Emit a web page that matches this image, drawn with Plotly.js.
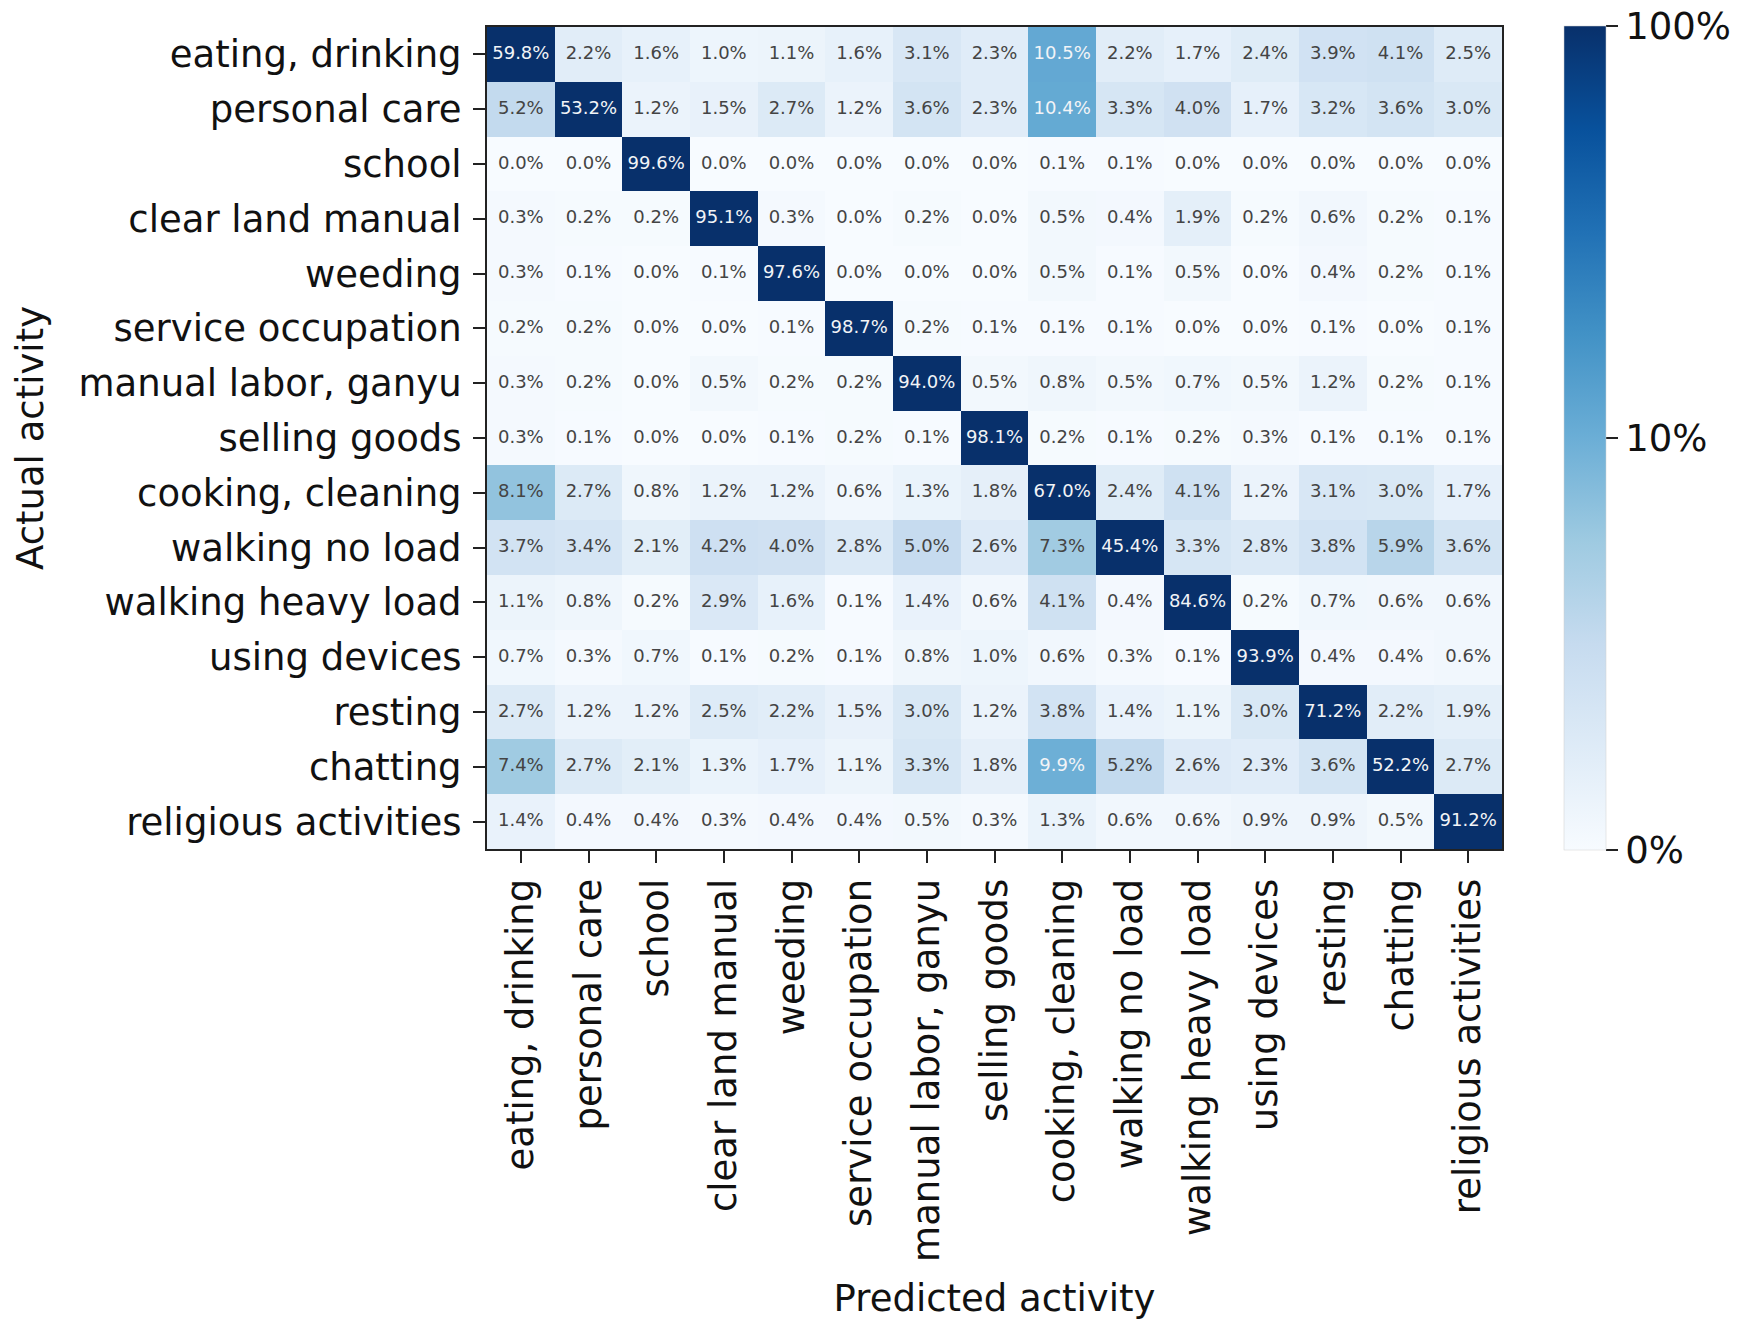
<!DOCTYPE html>
<html>
<head>
<meta charset="utf-8">
<script src="https://cdn.plot.ly/plotly-3.0.1.min.js"></script>
<style>
  html, body { margin: 0; padding: 0; background: #ffffff; }
  #chart { width: 1744px; height: 1320px; }
</style>
</head>
<body>
<div id="chart"></div>
<script>
// Activity categories (rows = actual, columns = predicted)
const activities = [
  "eating, drinking", "personal care", "school", "clear land manual", "weeding",
  "service occupation", "manual labor, ganyu", "selling goods", "cooking, cleaning",
  "walking no load", "walking heavy load", "using devices", "resting", "chatting",
  "religious activities"
];

// Percentages, one array per actual activity (row), in predicted-activity order
const eatingDrinking      = [59.8, 2.2, 1.6, 1.0, 1.1, 1.6, 3.1, 2.3, 10.5, 2.2, 1.7, 2.4, 3.9, 4.1, 2.5];
const personalCare        = [5.2, 53.2, 1.2, 1.5, 2.7, 1.2, 3.6, 2.3, 10.4, 3.3, 4.0, 1.7, 3.2, 3.6, 3.0];
const school              = [0.0, 0.0, 99.6, 0.0, 0.0, 0.0, 0.0, 0.0, 0.1, 0.1, 0.0, 0.0, 0.0, 0.0, 0.0];
const clearLandManual     = [0.3, 0.2, 0.2, 95.1, 0.3, 0.0, 0.2, 0.0, 0.5, 0.4, 1.9, 0.2, 0.6, 0.2, 0.1];
const weeding             = [0.3, 0.1, 0.0, 0.1, 97.6, 0.0, 0.0, 0.0, 0.5, 0.1, 0.5, 0.0, 0.4, 0.2, 0.1];
const serviceOccupation   = [0.2, 0.2, 0.0, 0.0, 0.1, 98.7, 0.2, 0.1, 0.1, 0.1, 0.0, 0.0, 0.1, 0.0, 0.1];
const manualLaborGanyu    = [0.3, 0.2, 0.0, 0.5, 0.2, 0.2, 94.0, 0.5, 0.8, 0.5, 0.7, 0.5, 1.2, 0.2, 0.1];
const sellingGoods        = [0.3, 0.1, 0.0, 0.0, 0.1, 0.2, 0.1, 98.1, 0.2, 0.1, 0.2, 0.3, 0.1, 0.1, 0.1];
const cookingCleaning     = [8.1, 2.7, 0.8, 1.2, 1.2, 0.6, 1.3, 1.8, 67.0, 2.4, 4.1, 1.2, 3.1, 3.0, 1.7];
const walkingNoLoad       = [3.7, 3.4, 2.1, 4.2, 4.0, 2.8, 5.0, 2.6, 7.3, 45.4, 3.3, 2.8, 3.8, 5.9, 3.6];
const walkingHeavyLoad    = [1.1, 0.8, 0.2, 2.9, 1.6, 0.1, 1.4, 0.6, 4.1, 0.4, 84.6, 0.2, 0.7, 0.6, 0.6];
const usingDevices        = [0.7, 0.3, 0.7, 0.1, 0.2, 0.1, 0.8, 1.0, 0.6, 0.3, 0.1, 93.9, 0.4, 0.4, 0.6];
const resting             = [2.7, 1.2, 1.2, 2.5, 2.2, 1.5, 3.0, 1.2, 3.8, 1.4, 1.1, 3.0, 71.2, 2.2, 1.9];
const chatting            = [7.4, 2.7, 2.1, 1.3, 1.7, 1.1, 3.3, 1.8, 9.9, 5.2, 2.6, 2.3, 3.6, 52.2, 2.7];
const religiousActivities = [1.4, 0.4, 0.4, 0.3, 0.4, 0.4, 0.5, 0.3, 1.3, 0.6, 0.6, 0.9, 0.9, 0.5, 91.2];

// Colorbar tick labels
const cbarTickText = ["0%", "10%", "100%"];

const rows = [
  eatingDrinking, personalCare, school, clearLandManual, weeding, serviceOccupation,
  manualLaborGanyu, sellingGoods, cookingCleaning, walkingNoLoad, walkingHeavyLoad,
  usingDevices, resting, chatting, religiousActivities
];

// Colour level (styling only): 0–10% spans the lower half of the scale, saturating above.
const colorLevel = v => Math.min(v / 20, 1);
const zColor = rows.map(r => r.map(colorLevel));

// Matplotlib "Blues"
const blues = [
  [0.0, "#f7fbff"], [0.125, "#deebf7"], [0.25, "#c6dbef"], [0.375, "#9ecae1"],
  [0.5, "#6baed6"], [0.625, "#4292c6"], [0.75, "#2171b5"], [0.875, "#08519c"], [1.0, "#08306b"]
];

const FONT = "DejaVu Sans, Verdana, sans-serif";

const heat = {
  type: "heatmap",
  x: activities,
  y: activities,
  z: zColor,
  zmin: 0,
  zmax: 1,
  colorscale: blues,
  xgap: 0,
  ygap: 0,
  hoverinfo: "skip",
  colorbar: {
    x: 1.0611, xanchor: "left", xref: "paper",
    y: 0.5, yanchor: "middle", yref: "paper",
    len: 1.003, lenmode: "fraction",
    thickness: 42, thicknessmode: "pixels",
    xpad: 0, ypad: 0,
    outlinewidth: 0.5, outlinecolor: "#d0d0d0",
    tickmode: "array",
    tickvals: [0, 0.5, 1],
    ticktext: cbarTickText,
    ticks: "outside", ticklen: 12, tickwidth: 2, tickcolor: "#222",
    ticklabelstandoff: 6,
    tickfont: { family: FONT, size: 37, color: "#111" }
  }
};

// Cell labels
const tx = [], ty = [], tt = [], tc = [];
rows.forEach((r, i) => r.forEach((v, j) => {
  tx.push(activities[j]);
  ty.push(activities[i]);
  tt.push(v.toFixed(1) + "%");
  tc.push(v >= 9 ? "#f2f4f7" : "#444444");
}));

const labels = {
  type: "scatter",
  mode: "text",
  x: tx, y: ty, text: tt,
  textposition: "middle center",
  textfont: { family: FONT, size: 18, color: tc },
  hoverinfo: "skip",
  showlegend: false,
  cliponaxis: false
};

const layout = {
  width: 1744,
  height: 1320,
  margin: { l: 487, r: 242, t: 27, b: 471, pad: 0 },
  paper_bgcolor: "#ffffff",
  plot_bgcolor: "#ffffff",
  showlegend: false,
  font: { family: FONT, color: "#111" },
  xaxis: {
    type: "category",
    range: [-0.5, 14.5],
    tickangle: -90,
    ticks: "outside", ticklen: 12, tickwidth: 2, tickcolor: "#222",
    tickfont: { family: FONT, size: 37, color: "#111" },
    ticklabelstandoff: 1,
    showline: true, mirror: true, linecolor: "#222", linewidth: 2,
    showgrid: false, zeroline: false,
    automargin: false,
    title: { text: "Predicted activity", font: { family: FONT, size: 37, color: "#111" }, standoff: 24 }
  },
  yaxis: {
    type: "category",
    range: [14.5, -0.5],
    ticks: "outside", ticklen: 12, tickwidth: 2, tickcolor: "#222",
    tickfont: { family: FONT, size: 37, color: "#111" },
    ticklabelstandoff: 4,
    showline: true, mirror: true, linecolor: "#222", linewidth: 2,
    showgrid: false, zeroline: false,
    automargin: false,
    title: { text: "Actual activity", font: { family: FONT, size: 37, color: "#111" }, standoff: 24 }
  }
};

Plotly.newPlot("chart", [heat, labels], layout, { displayModeBar: false, staticPlot: true });
</script>
</body>
</html>
